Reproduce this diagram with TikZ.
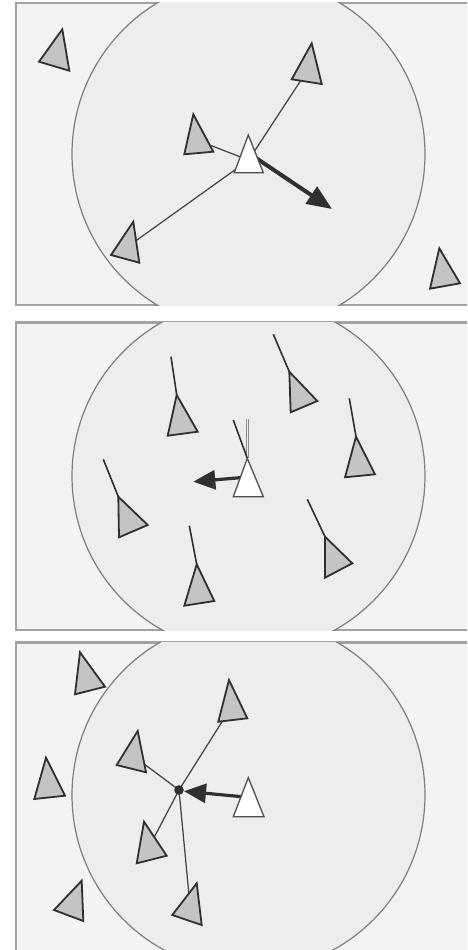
\documentclass[tikz,border=0pt]{standalone}
\usetikzlibrary{arrows.meta}
\definecolor{panelbg}{HTML}{F3F3F3}
\definecolor{circbg}{HTML}{EDEDED}
\definecolor{framec}{HTML}{A2A2A2}
\definecolor{circline}{HTML}{7E7E7E}
\definecolor{boidfill}{HTML}{C4C4C4}
\definecolor{ink}{HTML}{303030}
\tikzset{
  panel/.style={fill=panelbg,draw=framec,line width=2.2pt},
  zone/.style={fill=circbg,draw=circline,line width=1.2pt},
  boid/.style={fill=boidfill,draw=ink,line width=1.8pt,line join=miter},
  me/.style={fill=white,draw=ink!85,line width=1.3pt,line join=miter},
  link/.style={draw=ink!90,line width=1.25pt},
  tail/.style={draw=ink,line width=1.6pt},
  steer/.style={draw=ink,line width=4pt,-{Triangle[length=25pt,width=20pt]}},
  steerb/.style={draw=ink,line width=3.2pt,-{Triangle[length=22pt,width=19pt]}},
}
\begin{document}
\begin{tikzpicture}[x=1pt,y=-1pt]
\useasboundingbox (0,0) rectangle (467,950);
\fill[white] (0,0) rectangle (467,950);
\clip (0,0) rectangle (467,950);

% ---------------- Panel 1: separation ----------------
\draw[panel] (16,3) rectangle (480,305);
\begin{scope}
  \clip (16,3) rectangle (480,305);
  \draw[zone] (248.5,154) circle (176.5);
\end{scope}
\coordinate (t2) at (308.4,68.9);
\coordinate (t3) at (197,140.1);
\coordinate (t4) at (127.9,246.5);
\coordinate (w1) at (248.6,160.1);
\coordinate (a1) at (256,158);
\coordinate (a1tip) at (332,209);
\draw[link] (w1) -- (t2);
\draw[link] (w1) -- (t3);
\draw[link] (w1) -- (t4);
\draw[steer] (a1) -- (a1tip);
\draw[boid] (62.3,29.3) -- (69.3,70.7) -- (39,61.7) -- cycle;
\draw[boid] (311.7,43.3) -- (321.7,84) -- (291.7,79.3) -- cycle;
\draw[boid] (193.3,114.3) -- (213.3,151.7) -- (184.3,154.3) -- cycle;
\draw[boid] (133.3,221.7) -- (139.3,262.7) -- (111,255) -- cycle;
\draw[boid] (439.3,248.3) -- (460,283.3) -- (430,288.7) -- cycle;
\draw[me] (248.3,135) -- (263.3,172.7) -- (234.3,172.7) -- cycle;

% ---------------- Panel 2: alignment ----------------
\draw[panel] (16,322.5) rectangle (480,630);
\begin{scope}
  \clip (16,322.5) rectangle (480,630);
  \draw[zone] (248.5,476) circle (176.5);
\end{scope}
\coordinate (b1) at (176.7,395);   \coordinate (b1t) at (171,356.7);
\coordinate (b2) at (289.3,371.7); \coordinate (b2t) at (273.3,334.3);
\coordinate (b3) at (356,436.7);   \coordinate (b3t) at (349.3,398.3);
\coordinate (b4) at (118.3,496.7); \coordinate (b4t) at (103.3,459.3);
\coordinate (b5) at (196.7,564.3); \coordinate (b5t) at (189.3,525.7);
\coordinate (b6) at (325,536.7);   \coordinate (b6t) at (307.3,499.3);
\coordinate (w2) at (247.3,458.3);
\coordinate (w2h) at (247.3,419);
\coordinate (w2a) at (233.3,420);
\coordinate (a2) at (240,477.7);
\coordinate (a2tip) at (193.3,481.7);
\foreach \n in {b1,b2,b3,b4,b5,b6} \draw[tail] (\n) -- (\n t);
\draw[draw=gray!90,double=gray!12,double distance=1.4pt,line width=0.7pt] (w2) -- (w2h);
\draw[tail] (w2) -- (w2a);
\draw[steerb] (a2) -- (a2tip);
\draw[boid] (176.7,395) -- (197.7,431.7) -- (167.7,435.7) -- cycle;
\draw[boid] (289.3,371.7) -- (317.3,401) -- (290.7,412.3) -- cycle;
\draw[boid] (356,436.7) -- (375,474.3) -- (345,477.3) -- cycle;
\draw[boid] (118.3,496.7) -- (147.7,525) -- (119,537.3) -- cycle;
\draw[boid] (196.7,564.3) -- (214.3,601) -- (184.3,605.7) -- cycle;
\draw[boid] (325,536.7) -- (352.3,563.3) -- (325,577.7) -- cycle;
\draw[me] (247.3,458.3) -- (263.3,496.7) -- (233.3,496.7) -- cycle;

% ---------------- Panel 3: cohesion ----------------
\draw[panel] (16,642.5) rectangle (480,960);
\begin{scope}
  \clip (16,642.5) rectangle (480,960);
  \draw[zone] (248.5,795) circle (176.5);
\end{scope}
\coordinate (c2) at (231.5,706.7);
\coordinate (c3) at (133.5,756.1);
\coordinate (c5) at (149.1,846.9);
\coordinate (c7) at (190.2,907.8);
\coordinate (cm) at (179,790);
\coordinate (w3) at (241.7,796.7);
\coordinate (a3tip) at (184,791.2);
\draw[link] (cm) -- (c2);
\draw[link] (cm) -- (c3);
\draw[link] (cm) -- (c5);
\draw[link] (cm) -- (c7);
\draw[steerb] (w3) -- (a3tip);
\fill[ink] (cm) circle (4.8);
\draw[boid] (80,652.3) -- (105,686.7) -- (75,694.3) -- cycle;
\draw[boid] (229,680) -- (247.3,718.3) -- (218.3,721.7) -- cycle;
\draw[boid] (137.7,731) -- (146,772.3) -- (116.7,765) -- cycle;
\draw[boid] (46,757.7) -- (65,795.7) -- (34.3,799) -- cycle;
\draw[boid] (144,821.7) -- (166.7,855.7) -- (136.7,863.3) -- cycle;
\draw[boid] (81.7,880.7) -- (83.3,921) -- (54,910) -- cycle;
\draw[boid] (196.7,883.3) -- (201.7,925) -- (172.3,915) -- cycle;
\draw[me] (248.3,777.7) -- (264,816.7) -- (233.3,816.7) -- cycle;
\end{tikzpicture}
\end{document}
